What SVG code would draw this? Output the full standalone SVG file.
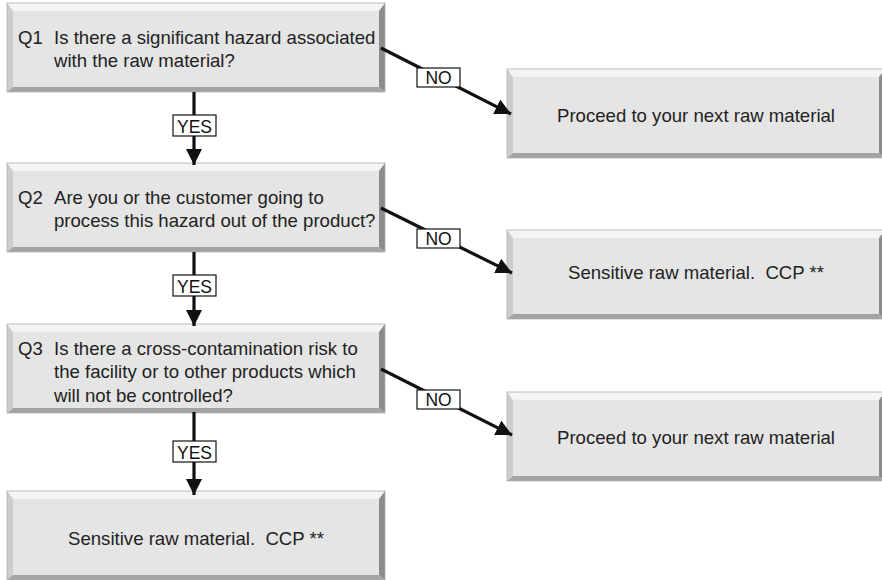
<svg xmlns="http://www.w3.org/2000/svg" width="882" height="580" viewBox="0 0 882 580">
  <style>
    .face { fill: #e5e5e5; }
    .bt { fill: #f4f4f4; }
    .bl { fill: #cdcdcd; }
    .br { fill: #8c8c8c; }
    .bb { fill: #a3a3a3; }
    .edge { fill: none; stroke: #b0b0b0; stroke-width: 0.8; }
    .txt { font-family: "Liberation Sans", Arial, sans-serif; font-size: 18.6px; fill: #222; white-space: pre; }
    .mid { text-anchor: middle; }
    .conn { stroke: #111; stroke-width: 3.2; fill: none; }
    .lblbox { fill: #fff; stroke: #111; stroke-width: 1.2; }
    .lbl { font-family: "Liberation Sans", Arial, sans-serif; font-size: 17.5px; fill: #111; text-anchor: middle; }
  </style>
  <defs>
    <marker id="arrow" markerUnits="userSpaceOnUse" markerWidth="17" markerHeight="16" refX="16" refY="8" orient="auto">
      <path d="M0,0 L16,8 L0,16 z" fill="#111"/>
    </marker>
    <!-- bevelled box, 378 x 89, drawn at origin -->
    <g id="bevel">
      <rect class="face" x="6" y="8" width="366" height="76"/>
      <polygon class="bt" points="0,0 378,0 372,8 6,8"/>
      <polygon class="bl" points="0,0 6,8 6,84 0,89"/>
      <polygon class="br" points="378,0 378,89 372,84 372,8"/>
      <polygon class="bb" points="0,89 6,84 372,84 378,89"/>
      <rect class="edge" x="0" y="0" width="378" height="89"/>
    </g>
  </defs>

  <!-- question and outcome boxes -->
  <g id="q1">
    <use href="#bevel" x="7" y="3"/>
    <text class="txt" x="18" y="44">Q1</text>
    <text class="txt" x="54" y="44">Is there a significant hazard associated</text>
    <text class="txt" x="54" y="67">with the raw material?</text>
  </g>
  <g id="q2">
    <use href="#bevel" x="7" y="163"/>
    <text class="txt" x="18" y="204">Q2</text>
    <text class="txt" x="54" y="204">Are you or the customer going to</text>
    <text class="txt" x="54" y="227">process this hazard out of the product?</text>
  </g>
  <g id="q3">
    <use href="#bevel" x="7" y="324"/>
    <text class="txt" x="18" y="355">Q3</text>
    <text class="txt" x="54" y="355">Is there a cross-contamination risk to</text>
    <text class="txt" x="54" y="378">the facility or to other products which</text>
    <text class="txt" x="54" y="402">will not be controlled?</text>
  </g>
  <g id="ccp-final">
    <use href="#bevel" x="7" y="491"/>
    <text class="txt mid" x="196" y="545">Sensitive raw material.  CCP **</text>
  </g>
  <g id="next1">
    <use href="#bevel" x="507" y="69"/>
    <text class="txt mid" x="696" y="122">Proceed to your next raw material</text>
  </g>
  <g id="ccp2">
    <use href="#bevel" x="507" y="230"/>
    <text class="txt mid" x="696" y="279">Sensitive raw material.  CCP **</text>
  </g>
  <g id="next3">
    <use href="#bevel" x="507" y="392"/>
    <text class="txt mid" x="696" y="444">Proceed to your next raw material</text>
  </g>

  <!-- connectors -->
  <g id="connectors">
    <line class="conn" x1="194" y1="92" x2="194" y2="165" marker-end="url(#arrow)"/>
    <line class="conn" x1="194" y1="252" x2="194" y2="326" marker-end="url(#arrow)"/>
    <line class="conn" x1="194" y1="412" x2="194" y2="495" marker-end="url(#arrow)"/>
    <line class="conn" x1="381" y1="48" x2="511" y2="114" marker-end="url(#arrow)"/>
    <line class="conn" x1="381" y1="208" x2="512" y2="273" marker-end="url(#arrow)"/>
    <line class="conn" x1="381" y1="369" x2="512" y2="435" marker-end="url(#arrow)"/>

    <rect class="lblbox" x="173" y="115" width="43" height="21"/>
    <text class="lbl" x="194.5" y="132.5">YES</text>
    <rect class="lblbox" x="173" y="275" width="43" height="21"/>
    <text class="lbl" x="194.5" y="292.5">YES</text>
    <rect class="lblbox" x="173" y="441" width="43" height="21"/>
    <text class="lbl" x="194.5" y="458.5">YES</text>

    <rect class="lblbox" x="417" y="68" width="43" height="19"/>
    <text class="lbl" x="438.5" y="84">NO</text>
    <rect class="lblbox" x="417" y="229" width="43" height="19"/>
    <text class="lbl" x="438.5" y="245">NO</text>
    <rect class="lblbox" x="417" y="390" width="43" height="19"/>
    <text class="lbl" x="438.5" y="406">NO</text>
  </g>
</svg>
